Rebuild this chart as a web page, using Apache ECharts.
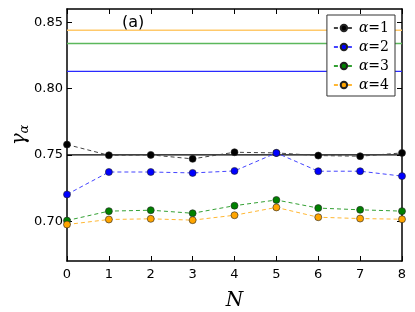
<!DOCTYPE html>
<html><head><meta charset="utf-8">
<script src="https://cdn.jsdelivr.net/npm/echarts@6/dist/echarts.min.js"></script>
<style>html,body{margin:0;padding:0;background:#fff}#c{width:415px;height:312px}</style>
</head><body><div id="c"></div>
<script>
const N = [0,1,2,3,4,5,6,7,8];
const alpha1 = [0.7578,0.7497,0.7500,0.7470,0.7520,0.7515,0.7495,0.7490,0.7515];
const alpha2 = [0.7202,0.7371,0.7371,0.7364,0.7379,0.7515,0.7377,0.7377,0.7340];
const alpha3 = [0.7005,0.7076,0.7083,0.7060,0.7117,0.7160,0.7099,0.7086,0.7076];
const alpha4 = [0.6975,0.7013,0.7018,0.7008,0.7045,0.7104,0.7030,0.7020,0.7015];
const limits = [0.750,0.813,0.834,0.844];
const yTicks = [0.70,0.75,0.80,0.85];
const names = ['α=1','α=2','α=3','α=4'];
const colors = ['#000000','#0000ff','#008000','#ffa500'];
const lineColors = ['#444444','#4444ff','#33a033','#ffb733'];
const limitColors = ['#000000','#2a2aff','#5cb85c','#ffc96b'];
const vals = [alpha1,alpha2,alpha3,alpha4];

const chart = echarts.init(document.getElementById('c'));
const series = [];
limits.forEach((v,i)=>{
  series.push({type:'line', data:[[0,v],[8,v]], symbol:'none', silent:true, z:1,
    lineStyle:{color:limitColors[i], width:1.4}});
});
vals.forEach((d,i)=>{
  series.push({name:names[i], type:'line', data:N.map((x,j)=>[x,d[j]]), z:3+i,
    symbol:'circle', symbolSize:7,
    itemStyle:{color:colors[i], borderColor:'#222', borderWidth:0.6},
    lineStyle:{color:lineColors[i], width:1, type:[4,3]}});
});
const axLine = {show:true, onZero:false, lineStyle:{color:'#000', width:1.5}};
chart.setOption({
  animation:false,
  grid:{left:67,right:13,top:9,bottom:51, outerBoundsMode:'none', containLabel:false},
  title:{text:'(a)', left:117, top:10, textStyle:{fontFamily:'DejaVu Sans', fontSize:16, fontWeight:'normal', color:'#000'}},
  legend:{data:names, orient:'vertical', right:20, top:15, padding:[6,6,4,6], itemGap:5,
    itemWidth:20, itemHeight:8, borderColor:'#333', borderWidth:1, backgroundColor:'#fff',
    formatter:n=>'{a|α}{b|' + n.slice(1) + '}',
    textStyle:{color:'#000', lineHeight:13, rich:{
      a:{fontFamily:'DejaVu Serif', fontStyle:'italic', fontSize:14, color:'#000'},
      b:{fontFamily:'DejaVu Serif', fontSize:14, color:'#000'}}}},
  xAxis:[{type:'value', min:0, max:8, interval:1, axisLine:axLine,
    axisTick:{inside:true, length:5, lineStyle:{color:'#000'}},
    axisLabel:{fontFamily:'DejaVu Sans', fontSize:13, color:'#000', margin:7},
    splitLine:{show:false},
    name:'N', nameLocation:'middle', nameGap:30,
    nameTextStyle:{fontFamily:'DejaVu Serif', fontStyle:'italic', fontSize:20, color:'#000'}},
   {type:'value', position:'top', min:0, max:8, interval:1, axisLine:axLine,
    axisTick:{inside:true, length:5, lineStyle:{color:'#000'}}, axisLabel:{show:false}, splitLine:{show:false}}],
  yAxis:[{type:'value', min:0.67, max:0.86, axisLine:axLine,
    axisTick:{inside:true, length:5, customValues:yTicks, lineStyle:{color:'#000'}},
    axisLabel:{customValues:yTicks, formatter:v=>v.toFixed(2), fontFamily:'DejaVu Sans', fontSize:13, color:'#000', margin:4},
    splitLine:{show:false},
    name:'{g|γ}{s|α}', nameLocation:'middle', nameGap:36, nameRotate:90, nameMoveOverlap:false,
    nameTextStyle:{rich:{g:{fontFamily:'DejaVu Serif', fontStyle:'italic', fontSize:20, color:'#000'},
                         s:{fontFamily:'DejaVu Serif', fontStyle:'italic', fontSize:13, color:'#000', padding:[10,0,0,0]}}}},
   {type:'value', position:'right', min:0.67, max:0.86, axisLine:axLine,
    axisTick:{inside:true, length:5, customValues:yTicks, lineStyle:{color:'#000'}},
    axisLabel:{show:false}, splitLine:{show:false}}],
  series:series
});
</script></body></html>
